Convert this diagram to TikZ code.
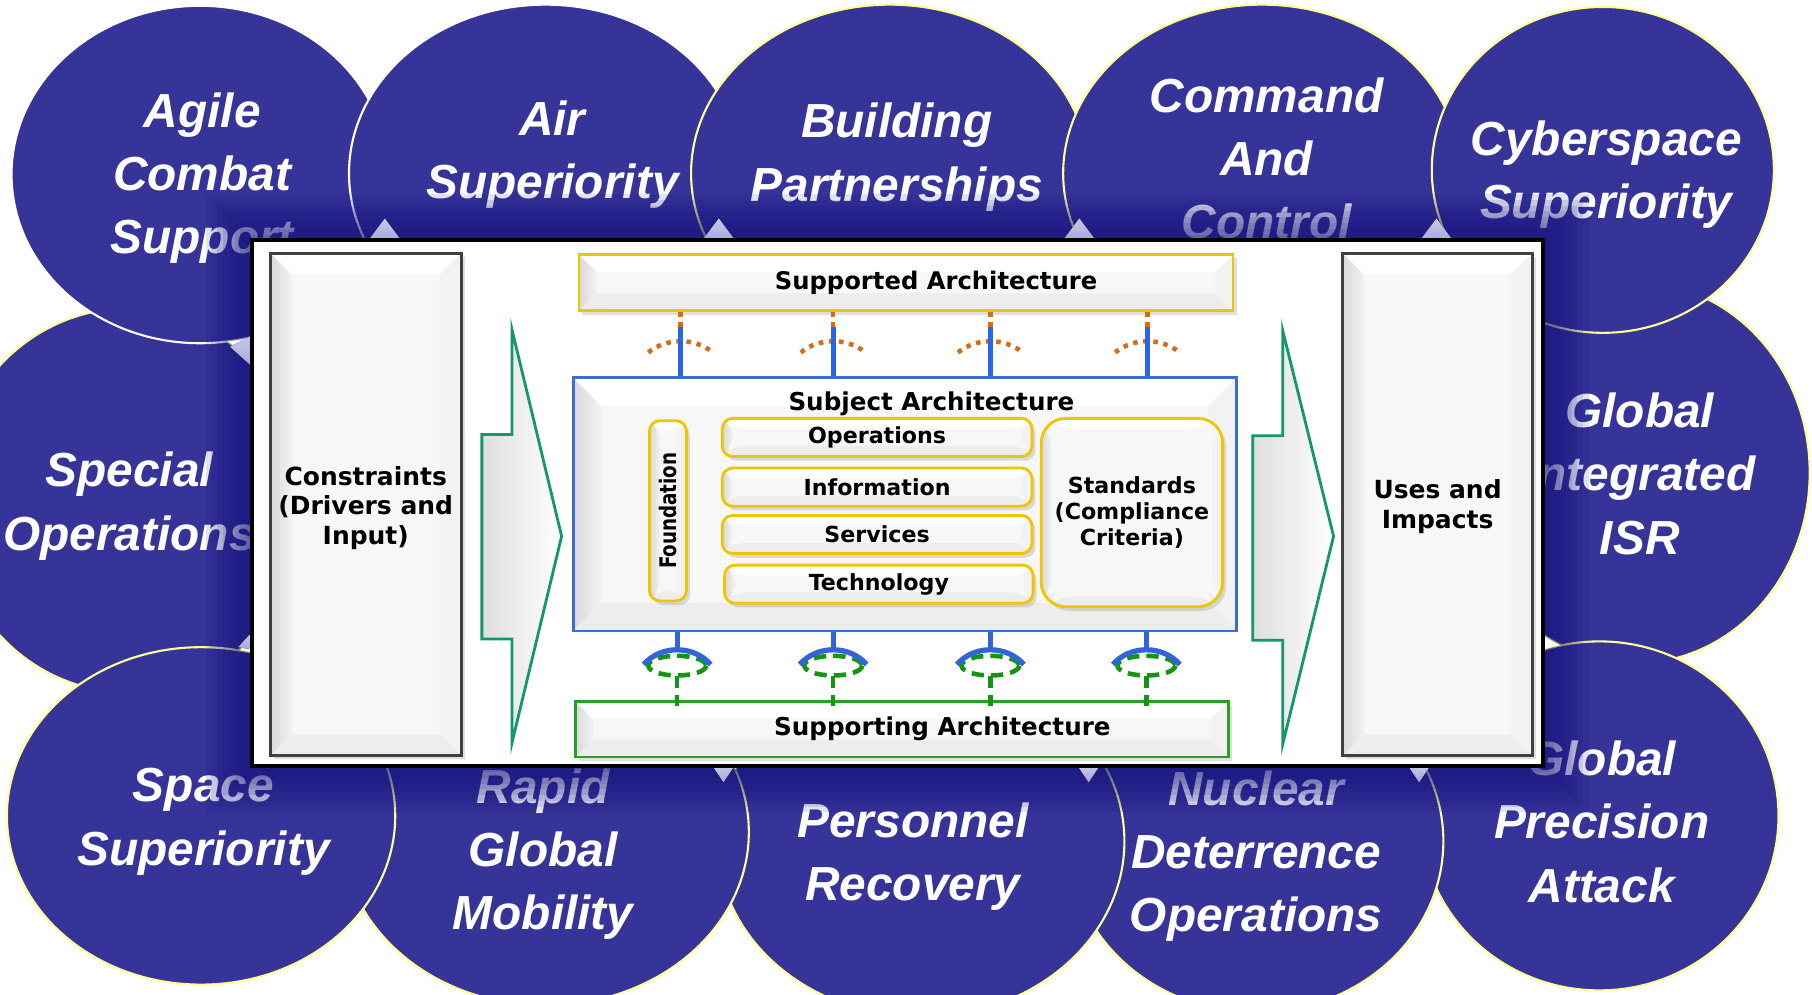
\documentclass[tikz,border=0pt]{standalone}
\usepackage{fontspec}
\setmainfont{Liberation Sans}
\newfontfamily\widefont{DejaVu Sans}
\usetikzlibrary{shadows}

\definecolor{ovalblue}{RGB}{54,52,152}
\definecolor{ovaledge}{RGB}{255,255,150}
\definecolor{shadeblue}{RGB}{20,18,125}
\definecolor{tailblue}{RGB}{165,165,220}
\definecolor{goldline}{RGB}{238,198,0}
\definecolor{subjblue}{RGB}{60,110,210}
\definecolor{suppgreen}{RGB}{40,160,40}
\definecolor{arrowgreen}{RGB}{20,150,110}
\definecolor{plugblue}{RGB}{40,100,240}
\definecolor{capblue}{RGB}{50,100,215}
\definecolor{plugorange}{RGB}{210,110,20}
\definecolor{pluggreen}{RGB}{20,150,20}

\newlength\ux
\setlength\ux{0.011556cm}

% name/cx/cy/rx/ry/edge/text x/text y/text, back to front
\newcommand\missionlist{%
special/110/433/155/166/ovaledge/112/434/{Special\\Operations},%
globalisr/1415/409/151/165/ovaledge/1419/406/{Global\\Integrated\\ISR},%
precision/1384/706/155/151/ovaledge/1386/707/{Global\\Precision\\Attack},%
nuclear/1087/728/162/148/ovaledge/1087/737/{Nuclear\\Deterrence\\Operations},%
personnel/797/728/176/152/ovaledge/790/737/{Personnel\\Recovery},%
rapid/472/720/176/150/ovaledge/470/735/{Rapid\\Global\\Mobility},%
space/174/706/168/146/ovaledge/176/707/{Space\\Superiority},%
agile/173/151/163/146/white/175/150/{Agile\\Combat\\Support},%
air/472/150/170/146/white/478/130/{Air\\Superiority},%
building/770/150/172/146/ovaledge/776/132/{Building\\Partnerships},%
command/1092/150/172/146/ovaledge/1096/133/{Command\\And\\Control},%
cyber/1387/147/148/141/ovaledge/1390/147/{Cyberspace\\Superiority}}

\tikzset{
  oval/.style={fill=ovalblue, line width=0.6pt},
  ovaltext/.style={text=white, align=center, yshift=-4\ux, font=\fontsize{13.6}{18}\selectfont\bfseries\itshape},
  calltail/.style={top color=tailblue!60!white, bottom color=tailblue},
  mainframe/.style={draw=black, line width=1.2pt, fill=white, inner sep=0pt},
  bevel/.style={path picture={
    \coordinate (bvA) at (path picture bounding box.south west);
    \coordinate (bvB) at (path picture bounding box.north west);
    \coordinate (bvC) at (path picture bounding box.north east);
    \coordinate (bvD) at (path picture bounding box.south east);
    \fill[left color=black!15, right color=black!5]
      (bvA) -- (bvB) -- ([shift={(#1,-#1)}]bvB) -- ([shift={(#1,#1)}]bvA) -- cycle;
    \fill[white] (bvB) -- (bvC) -- ([shift={(-#1,-#1)}]bvC) -- ([shift={(#1,-#1)}]bvB) -- cycle;
    \fill[black!5] (bvC) -- (bvD) -- ([shift={(-#1,#1)}]bvD) -- ([shift={(-#1,-#1)}]bvC) -- cycle;
    \fill[black!7] (bvA) -- (bvD) -- ([shift={(-#1,#1)}]bvD) -- ([shift={(#1,#1)}]bvA) -- cycle;
  }},
  bevel/.default=3pt,
  boxfont/.style={font=\widefont\bfseries\fontsize{#1}{#1}\selectfont},
  sidefont/.style={align=center, font=\widefont\bfseries\fontsize{7.1}{8.4}\selectfont},
  plainbox/.style={draw=black!75, line width=0.8pt, fill=black!3, bevel=6pt, inner sep=0pt,
    drop shadow={opacity=0.25, shadow xshift=1pt, shadow yshift=-1pt}},
  barshadow/.style={drop shadow={opacity=0.25, shadow xshift=1pt, shadow yshift=-1.2pt}},
  goldbar/.style={draw=goldline, line width=0.8pt, fill=black!3, bevel=5pt, inner sep=0pt, barshadow},
  subjbox/.style={draw=subjblue, line width=0.8pt, fill=black!3, bevel=8pt, inner sep=0pt},
  greenbar/.style={draw=suppgreen, line width=0.8pt, fill=black!3, bevel=5pt, inner sep=0pt, barshadow},
  goldbox/.style={draw=goldline, line width=0.8pt, fill=black!3, rounded corners=3pt, bevel,
    inner sep=0pt, align=center, boxfont=6.3, barshadow},
  bigarrow/.style={draw=arrowgreen, line width=0.8pt, left color=black!13, right color=white},
  needline/.style={draw=plugorange, line width=1.3pt, dash pattern=on 1.3pt off 1.6pt},
  giveline/.style={draw=plugblue, line width=1.4pt},
  capline/.style={draw=capblue, line width=1.5pt},
  supline/.style={draw=pluggreen, line width=1.3pt, dash pattern=on 3.5pt off 2pt},
}

\begin{document}
\begin{tikzpicture}[x=0.011556cm, y=-0.011556cm]
\useasboundingbox (0,0) rectangle (1568,861);
\clip (0,0) rectangle (1568,861);

% mission ovals
\foreach \nm/\cx/\cy/\rx/\ry/\edge/\tx/\ty/\txt in \missionlist {
  \path[oval, draw=\edge] (\cx,\cy) ellipse [x radius=\rx, y radius=\ry];
  \node[ovaltext] (\nm) at (\tx,\ty) {\txt};
}

% dark glow round the frame, only on the ovals
\begin{scope}
\clip foreach \nm/\cx/\cy/\rx/\ry/\edge/\tx/\ty/\txt in \missionlist {(\cx,\cy) ellipse [x radius=\rx, y radius=\ry]};
\foreach \g in {1,...,8}
  \fill[shadeblue, opacity=0.12] (218-5*\g,208-5*\g) rectangle (1335+5*\g,663+5*\g);
\end{scope}

% callout tails
\foreach \cx in {333,622,934,1243}
  \fill[calltail] (\cx-15,209) -- (\cx,189) -- (\cx+15,209) -- cycle;
\foreach \cx in {626,942,1228}
  \fill[calltail] (\cx-10,662) -- (\cx,677) -- (\cx+10,662) -- cycle;
\fill[calltail] (219,290) -- (199,300) -- (219,318) -- cycle;
\fill[calltail] (219,546) -- (206,560) -- (219,562) -- cycle;

\node[mainframe, minimum width=1117\ux, minimum height=455\ux] (frame) at (776.5,435.5) {};

\node[plainbox, minimum width=165\ux, minimum height=435\ux,
  label={[sidefont, yshift=-3\ux]center:Constraints\\(Drivers and\\Input)}] (constraints) at (316.5,436.5) {};
\node[plainbox, minimum width=164\ux, minimum height=435\ux,
  label={[sidefont, yshift=-2\ux]center:Uses and\\Impacts}] (uses) at (1244,436.5) {};

\draw[bigarrow] (417,376) -- (443,376) -- (443,285) -- (486,464) -- (443,643) -- (443,553) -- (417,553) -- cycle;
\draw[bigarrow] (1084,377) -- (1110,377) -- (1110,286) -- (1154,464) -- (1110,644) -- (1110,554) -- (1084,554) -- cycle;

\node[goldbar, minimum width=566\ux, minimum height=49\ux,
  label={[boxfont=6.9, xshift=26\ux]center:Supported Architecture}] (supported) at (784,244.5) {};
\node[subjbox, minimum width=574\ux, minimum height=219\ux,
  label={[boxfont=7, anchor=center, xshift=23\ux, yshift=-24\ux]north:Subject Architecture}] (subject) at (783,436.5) {};
\node[greenbar, minimum width=565\ux, minimum height=48\ux,
  label={[boxfont=7, xshift=35\ux]center:Supporting Architecture}] (supporting) at (780.5,631) {};

\node[goldbox, minimum width=32\ux, minimum height=156\ux, boxfont=6.5] (foundation) at (578,442) {\rotatebox{90}{\scalebox{0.8}[1]{Foundation}}};
\node[goldbox, minimum width=268\ux, minimum height=33\ux] (operations) at (759,378.5) {Operations};
\node[goldbox, minimum width=268\ux, minimum height=33\ux] (information) at (759,421.5) {Information};
\node[goldbox, minimum width=268\ux, minimum height=33\ux] (services) at (759,462.5) {Services};
\node[goldbox, minimum width=267\ux, minimum height=33\ux] (technology) at (760.5,505.5) {Technology};
\node[goldbox, minimum width=157\ux, minimum height=163\ux, rounded corners=7pt,
  font=\widefont\bfseries\fontsize{6.3}{7.5}\selectfont] (standards) at (979.5,443.5) {Standards\\(Compliance\\Criteria)};

% sockets above the subject architecture
\foreach \i/\cx in {1/589,2/721,3/857,4/993}{
  \coordinate (socket\i) at (\cx,283);
  \draw[needline] (supported.south -| socket\i) -- ([yshift=-4\ux]socket\i);
  \draw[needline] (\cx-28,305) .. controls (\cx-12,292) and (\cx+12,292) .. (\cx+28,305);
  \draw[giveline] (subject.north -| socket\i) -- (socket\i);
}

% balls below the subject architecture
\foreach \i/\cx in {1/586,2/721,3/857,4/992}{
  \coordinate (ball\i) at (\cx,562);
  \coordinate (ringfoot\i) at (\cx,585);
  \draw[supline] (\cx,576) ellipse [x radius=25, y radius=8.5];
  \draw[supline] (ringfoot\i) -- ([yshift=-5\ux]supporting.north -| ringfoot\i);
  \draw[capline] (subject.south -| ball\i) -- (ball\i);
  \draw[capline] (\cx-29,575) .. controls (\cx-14,558) and (\cx+14,558) .. (\cx+29,575);
}
\end{tikzpicture}
\end{document}
